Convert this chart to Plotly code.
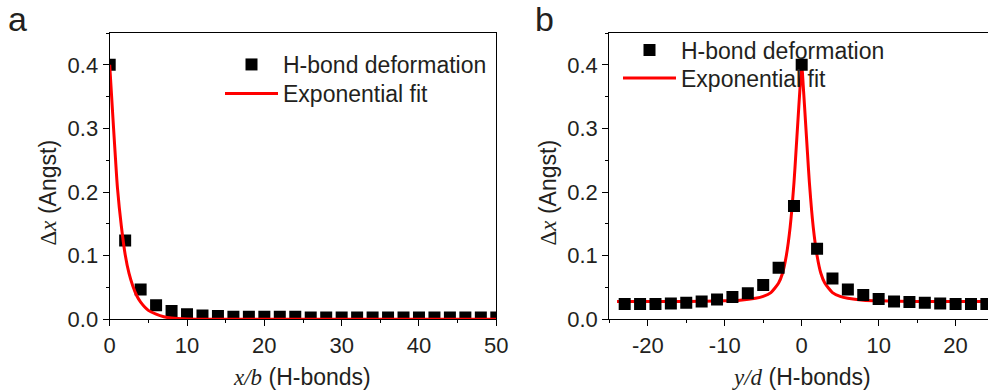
import plotly.graph_objects as go

# ---------------- data ----------------
left_x = [0, 2, 4, 6, 8, 10, 12, 14, 16, 18, 20, 22, 24, 26, 28, 30, 32, 34, 36, 38, 40, 42, 44, 46, 48, 50]
left_y = [0.400, 0.124, 0.047, 0.022, 0.013, 0.008, 0.006, 0.005, 0.004, 0.004, 0.004, 0.004, 0.004,
          0.003, 0.003, 0.003, 0.003, 0.003, 0.003, 0.003, 0.003, 0.003, 0.003, 0.003, 0.003, 0.003]

fitL_x = [0, 0.25, 0.5, 0.75, 1, 1.5, 2, 2.5, 3, 3.5, 4, 5, 6, 7, 8, 10, 12, 15, 50]
fitL_y = [0.400, 0.350, 0.300, 0.252, 0.207, 0.147, 0.102, 0.072, 0.052, 0.037, 0.027, 0.014,
          0.008, 0.004, 0.002, 0.0006, 0.0002, 0.0, 0.0]

right_x = [-23, -21, -19, -17, -15, -13, -11, -9, -7, -5, -3, -1, 0, 2, 4, 6, 8, 10, 12, 14, 16, 18, 20, 22, 24]
right_y = [0.024, 0.024, 0.024, 0.025, 0.026, 0.028, 0.031, 0.035, 0.041, 0.054, 0.081, 0.178, 0.400,
           0.111, 0.064, 0.047, 0.038, 0.032, 0.028, 0.027, 0.026, 0.025, 0.024, 0.024, 0.024]

fitR_x = [-24, -20, -15, -10, -8, -6, -5, -4, -3, -2.5, -2, -1.5, -1, -0.75, -0.5, -0.25, 0,
          0.25, 0.5, 0.75, 1, 1.5, 2, 2.5, 3, 4, 5, 6, 8, 10, 15, 20, 25]
fitR_y = [0.028, 0.028, 0.028, 0.029, 0.030, 0.033, 0.036, 0.042, 0.057, 0.072, 0.100, 0.145, 0.215,
          0.262, 0.310, 0.358, 0.400,
          0.358, 0.310, 0.262, 0.215, 0.145, 0.100, 0.072, 0.057, 0.042, 0.036, 0.033, 0.030, 0.029,
          0.028, 0.028, 0.028]

y_tickvals = [0.0, 0.1, 0.2, 0.3, 0.4]
y_ticktext = ["0.0", "0.1", "0.2", "0.3", "0.4"]
xL_tickvals = [0, 10, 20, 30, 40, 50]
xL_ticktext = ["0", "10", "20", "30", "40", "50"]
xR_tickvals = [-20, -10, 0, 10, 20]
xR_ticktext = ["-20", "-10", "0", "10", "20"]

series_names = ["H-bond deformation", "Exponential fit"]

# ---------------- style ----------------
FONT = "Liberation Sans, Arial, Helvetica, sans-serif"
TXT = "#231f20"
FS = 22
LFS = 23
W, H = 988, 390

def px_x(p):
    return p / W

def px_y(p):
    return 1 - p / H

fig = go.Figure()

fig.add_trace(go.Scatter(x=left_x, y=left_y, mode="markers", name=series_names[0],
                         marker=dict(symbol="square", size=12, color="black"),
                         xaxis="x", yaxis="y", legend="legend"))
fig.add_trace(go.Scatter(x=fitL_x, y=fitL_y, mode="lines", name=series_names[1],
                         line=dict(color="#ff0000", width=3, shape="spline", smoothing=0.6),
                         xaxis="x", yaxis="y", legend="legend2"))
fig.add_trace(go.Scatter(x=fitR_x, y=fitR_y, mode="lines", name=series_names[1],
                         line=dict(color="#ff0000", width=3, shape="spline", smoothing=0.6),
                         xaxis="x2", yaxis="y2", legend="legend4"))
fig.add_trace(go.Scatter(x=right_x, y=right_y, mode="markers", name=series_names[0],
                         marker=dict(symbol="square", size=12, color="black"),
                         xaxis="x2", yaxis="y2", legend="legend3"))

ydom = [px_y(319.3), px_y(33)]
common_axis = dict(showline=True, linecolor="black", linewidth=1.2, ticks="outside",
                   ticklen=6, tickwidth=1.2, tickcolor="black", showgrid=False, zeroline=False,
                   automargin=False, tickfont=dict(family=FONT, size=FS, color=TXT))

def leg(xp, yp):
    return dict(x=px_x(xp), y=px_y(yp), xanchor="left", yanchor="top", xref="paper", yref="paper",
                bgcolor="rgba(0,0,0,0)", itemwidth=53, tracegroupgap=0,
                font=dict(family=FONT, size=LFS, color=TXT))

fig.update_layout(
    width=W, height=H, margin=dict(l=0, r=0, t=0, b=0, pad=0, autoexpand=False),
    paper_bgcolor="white", plot_bgcolor="white",
    font=dict(family=FONT, size=FS, color=TXT),
    xaxis=dict(domain=[px_x(109.7), px_x(496.3)], range=[0, 50], anchor="y", mirror=True,
               tickmode="array", tickvals=xL_tickvals, ticktext=xL_ticktext,
               minor=dict(dtick=5, tick0=0, ticks="outside", ticklen=3, tickwidth=1.2, tickcolor="black"),
               **common_axis),
    yaxis=dict(domain=ydom, range=[0, 0.45], anchor="x", mirror=True,
               tickmode="array", tickvals=y_tickvals, ticktext=y_ticktext,
               minor=dict(dtick=0.05, tick0=0, ticks="outside", ticklen=3, tickwidth=1.2, tickcolor="black"),
               **common_axis),
    xaxis2=dict(domain=[px_x(609.3), 1.0], range=[-25, 24.21], anchor="y2", mirror=True,
                tickmode="array", tickvals=xR_tickvals, ticktext=xR_ticktext,
                minor=dict(dtick=5, tick0=0, ticks="outside", ticklen=3, tickwidth=1.2, tickcolor="black"),
                **common_axis),
    yaxis2=dict(domain=ydom, range=[0, 0.45], anchor="x2", mirror=False,
                tickmode="array", tickvals=y_tickvals, ticktext=y_ticktext,
                minor=dict(dtick=0.05, tick0=0, ticks="outside", ticklen=3, tickwidth=1.2, tickcolor="black"),
                **common_axis),
    legend=leg(220, 43),
    legend2=leg(220, 72),
    legend3=leg(618, 28.5),
    legend4=leg(618, 56.5),
    showlegend=True,
)

serif = "Liberation Serif, Times New Roman, serif"
annots = [
    dict(text="a", x=px_x(7), y=px_y(-1), xanchor="left", yanchor="top", font=dict(size=34)),
    dict(text="b", x=px_x(534), y=px_y(-1), xanchor="left", yanchor="top", font=dict(size=34)),
    dict(text=f"<span style='font-family:{serif}'>Δ<i>x</i></span> (Angst)", x=px_x(47), y=px_y(192.5),
         textangle=-90, xanchor="center", yanchor="middle", font=dict(size=LFS)),
    dict(text=f"<span style='font-family:{serif}'>Δ<i>x</i></span> (Angst)", x=px_x(547), y=px_y(192.5),
         textangle=-90, xanchor="center", yanchor="middle", font=dict(size=LFS)),
    dict(text=f"<span style='font-family:{serif}'><i>x/b</i></span> (H-bonds)", x=px_x(302), y=px_y(377),
         xanchor="center", yanchor="middle", font=dict(size=LFS)),
    dict(text=f"<span style='font-family:{serif}'><i>y/d</i></span> (H-bonds)", x=px_x(801), y=px_y(377),
         xanchor="center", yanchor="middle", font=dict(size=LFS)),
]
for a in annots:
    a.update(xref="paper", yref="paper", showarrow=False, borderpad=0)
    a["font"] = dict(family=FONT, color=TXT, **a["font"])
    fig.add_annotation(**a)

fig.write_html("out.html")
